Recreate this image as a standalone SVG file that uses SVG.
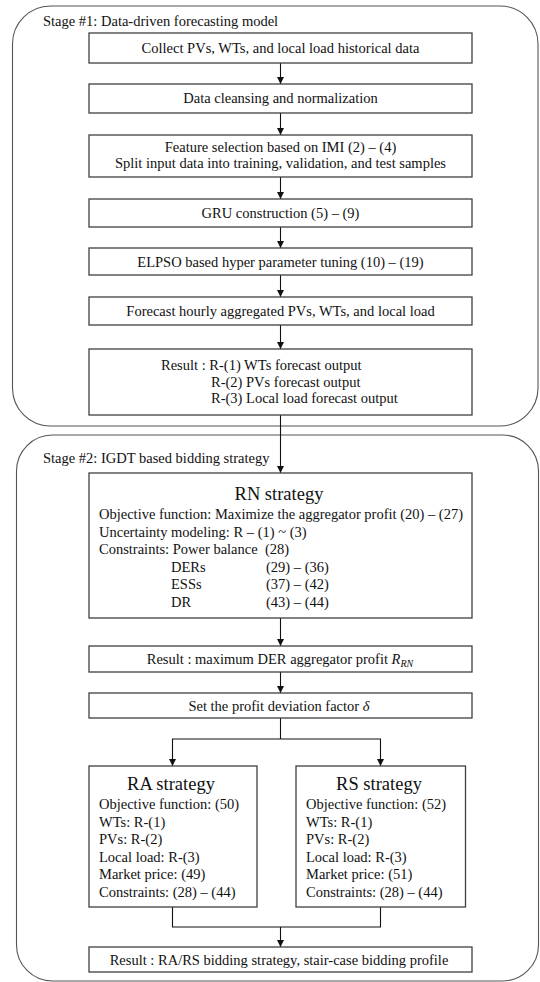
<svg xmlns="http://www.w3.org/2000/svg" width="540" height="982" viewBox="0 0 540 982">
<defs>
<style>
text{font-family:"Liberation Serif","Times New Roman",serif;font-size:14.5px;fill:#111;}
.c{text-anchor:middle;}
.t{font-size:18.5px;}
.box{fill:#fff;stroke:#404040;stroke-width:1.3;}
.frame{fill:#fff;stroke:#555;stroke-width:1.1;}
.ln{fill:none;stroke:#111;stroke-width:1.1;}
.ar{marker-end:url(#ah);}
</style>
<marker id="ah" markerUnits="userSpaceOnUse" markerWidth="7" markerHeight="7" refX="7" refY="3.5" orient="auto">
<path d="M0,0 L7,3.5 L0,7 z" fill="#111"/>
</marker>
</defs>
<rect width="540" height="982" fill="#fff"/>
<g id="stage1">
<rect class="frame" x="12.5" y="6" width="525.5" height="420" rx="38" ry="38"/>
<text x="43" y="26">Stage #1: Data-driven forecasting model</text>
</g>
<g id="stage2">
<rect class="frame" x="16.5" y="435" width="522" height="546" rx="36" ry="36"/>
<text x="43" y="463">Stage #2: IGDT  based bidding strategy</text>
</g>
<g id="connectors">
<line class="ln ar" x1="280.5" y1="63" x2="280.5" y2="84"/>
<line class="ln ar" x1="280.5" y1="113" x2="280.5" y2="135"/>
<line class="ln ar" x1="280.5" y1="177" x2="280.5" y2="199"/>
<line class="ln ar" x1="280.5" y1="227" x2="280.5" y2="248"/>
<line class="ln ar" x1="280.5" y1="275" x2="280.5" y2="297"/>
<line class="ln ar" x1="280.5" y1="325" x2="280.5" y2="349"/>
<line class="ln ar" x1="280.5" y1="415" x2="280.5" y2="473"/>
<line class="ln ar" x1="280.5" y1="618" x2="280.5" y2="646"/>
<line class="ln ar" x1="280.5" y1="672" x2="280.5" y2="693"/>
<polyline class="ln" points="280.5,718 280.5,739"/>
<polyline class="ln ar" points="280.5,739 172.5,739 172.5,766"/>
<polyline class="ln ar" points="280.5,739 380.5,739 380.5,766"/>
<polyline class="ln" points="172.5,907 172.5,927 380.5,927 380.5,907"/>
<line class="ln ar" x1="280.5" y1="927" x2="280.5" y2="947"/>
</g>
<g id="n1">
<rect class="box" x="89" y="33" width="383" height="30"/>
<text class="c" x="280.5" y="53">Collect PVs, WTs, and local load historical data</text>
</g>
<g id="n2">
<rect class="box" x="89" y="84" width="383" height="29"/>
<text class="c" x="280.5" y="103">Data cleansing and normalization</text>
</g>
<g id="n3">
<rect class="box" x="89" y="135" width="383" height="42"/>
<text class="c" x="280.5" y="152">Feature selection based on IMI (2) – (4)</text>
<text class="c" x="280.5" y="168">Split input data into training, validation, and test samples</text>
</g>
<g id="n4">
<rect class="box" x="89" y="199" width="383" height="28"/>
<text class="c" x="280.5" y="218">GRU  construction (5) – (9)</text>
</g>
<g id="n5">
<rect class="box" x="89" y="248" width="383" height="27"/>
<text class="c" x="280.5" y="267">ELPSO  based hyper parameter tuning (10) – (19)</text>
</g>
<g id="n6">
<rect class="box" x="89" y="297" width="383" height="28"/>
<text class="c" x="280.5" y="316">Forecast hourly aggregated PVs, WTs, and local load</text>
</g>
<g id="n7">
<rect class="box" x="89" y="349" width="383" height="66"/>
<text x="161" y="370">Result : R-(1)  WTs forecast output</text>
<text x="211" y="387">R-(2)  PVs forecast output</text>
<text x="211" y="403">R-(3)  Local load forecast output</text>
</g>
<g id="rn">
<rect class="box" x="89" y="473" width="383" height="145"/>
<text class="c t" x="279" y="500">RN strategy</text>
<text x="99" y="519">Objective function: Maximize the aggregator profit (20) – (27)</text>
<text x="99" y="536.5">Uncertainty modeling: R – (1) ~ (3)</text>
<text x="99" y="554">Constraints: Power balance</text>
<text x="265" y="554">(28)</text>
<text x="171" y="571.5">DERs</text>
<text x="266" y="571.5">(29) – (36)</text>
<text x="171" y="589">ESSs</text>
<text x="266" y="589">(37) – (42)</text>
<text x="171" y="606.5">DR</text>
<text x="266" y="606.5">(43) – (44)</text>
</g>
<g id="n8">
<rect class="box" x="89" y="646" width="383" height="26"/>
<text class="c" x="280" y="664">Result : maximum  DER  aggregator profit <tspan font-style="italic">R</tspan><tspan font-style="italic" font-size="10" dy="3">RN</tspan></text>
</g>
<g id="n9">
<rect class="box" x="89" y="693" width="383" height="25"/>
<text class="c" x="279" y="711">Set the profit  deviation factor <tspan font-style="italic">δ</tspan></text>
</g>
<g id="ra">
<rect class="box" x="89" y="766" width="168" height="141"/>
<text class="c t" x="171" y="790">RA strategy</text>
<text x="99" y="809">Objective function: (50)</text>
<text x="99" y="826.5">WTs: R-(1)</text>
<text x="99" y="844">PVs: R-(2)</text>
<text x="99" y="861.5">Local load: R-(3)</text>
<text x="99" y="879">Market price: (49)</text>
<text x="99" y="896.5">Constraints: (28) – (44)</text>
</g>
<g id="rs">
<rect class="box" x="296" y="766" width="169.5" height="141"/>
<text class="c t" x="379" y="790">RS strategy</text>
<text x="306" y="809">Objective function: (52)</text>
<text x="306" y="826.5">WTs: R-(1)</text>
<text x="306" y="844">PVs: R-(2)</text>
<text x="306" y="861.5">Local load: R-(3)</text>
<text x="306" y="879">Market price: (51)</text>
<text x="306" y="896.5">Constraints: (28) – (44)</text>
</g>
<g id="n10">
<rect class="box" x="89" y="947" width="383" height="25"/>
<text class="c" x="279" y="965">Result : RA/RS bidding strategy, stair-case bidding profile</text>
</g>
</svg>
